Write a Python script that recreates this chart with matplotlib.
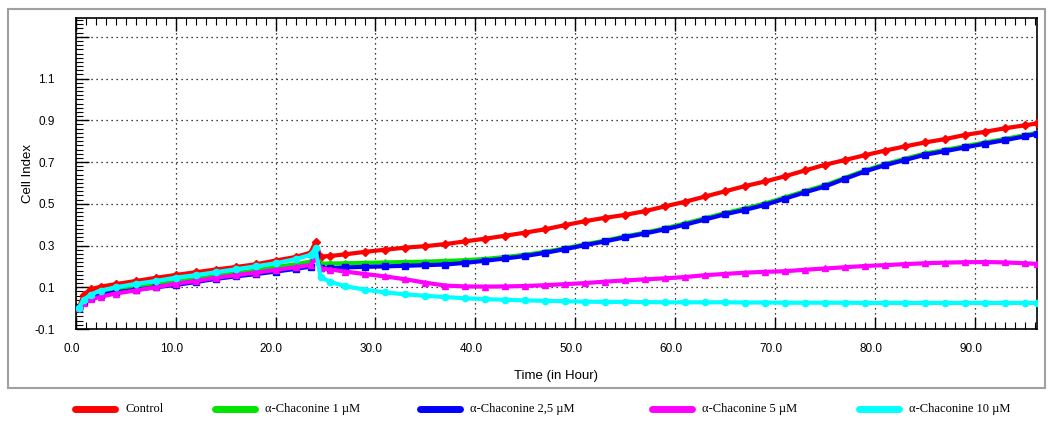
import matplotlib
matplotlib.use("Agg")
import matplotlib.pyplot as plt
import matplotlib.transforms as mtransforms
from matplotlib.lines import Line2D
from matplotlib.patches import Rectangle
import numpy as np

# time points (hours)
hours = [0.3, 0.8, 1.5, 2.5, 4, 6, 8, 10, 12, 14, 16, 18, 20, 22, 23.5, 24.0, 24.5,
         25.5, 27, 29, 31, 33, 35, 37, 39, 41, 43, 45, 47, 49, 51, 53, 55, 57, 59,
         61, 63, 65, 67, 69, 71, 73, 75, 77, 79, 81, 83, 85, 87, 89, 91, 93, 95, 96.2]

control = [0.0, 0.065, 0.09, 0.103, 0.115, 0.13, 0.145, 0.159, 0.172, 0.185, 0.197,
           0.21, 0.228, 0.245, 0.266, 0.315, 0.247, 0.25, 0.258, 0.27, 0.28, 0.29,
           0.297, 0.307, 0.32, 0.333, 0.347, 0.362, 0.378, 0.398, 0.417, 0.433, 0.447,
           0.465, 0.488, 0.51, 0.535, 0.56, 0.585, 0.607, 0.632, 0.66, 0.687, 0.71,
           0.733, 0.755, 0.775, 0.794, 0.81, 0.83, 0.845, 0.862, 0.876, 0.885]

chac_1 = [0.0, 0.04, 0.06, 0.075, 0.087, 0.1, 0.113, 0.126, 0.14, 0.155, 0.167, 0.18,
          0.197, 0.21, 0.223, 0.258, 0.213, 0.214, 0.215, 0.217, 0.219, 0.221, 0.223,
          0.226, 0.23, 0.236, 0.245, 0.256, 0.27, 0.287, 0.306, 0.324, 0.344, 0.362,
          0.383, 0.406, 0.431, 0.456, 0.478, 0.502, 0.531, 0.561, 0.589, 0.625, 0.66,
          0.69, 0.716, 0.741, 0.758, 0.776, 0.794, 0.811, 0.829, 0.84]

chac_2_5 = [0.0, 0.03, 0.05, 0.065, 0.075, 0.088, 0.1, 0.111, 0.125, 0.14, 0.152, 0.163,
            0.175, 0.188, 0.199, 0.255, 0.19, 0.192, 0.195, 0.198, 0.2, 0.203, 0.206,
            0.209, 0.217, 0.227, 0.238, 0.25, 0.265, 0.283, 0.302, 0.32, 0.34, 0.358,
            0.378, 0.4, 0.425, 0.45, 0.471, 0.495, 0.525, 0.555, 0.583, 0.62, 0.655,
            0.685, 0.71, 0.735, 0.752, 0.77, 0.788, 0.805, 0.823, 0.835]

chac_5 = [0.0, 0.025, 0.042, 0.055, 0.07, 0.085, 0.1, 0.117, 0.13, 0.145, 0.158, 0.17,
          0.183, 0.196, 0.207, 0.24, 0.19, 0.185, 0.175, 0.163, 0.152, 0.138, 0.122,
          0.108, 0.104, 0.103, 0.104, 0.106, 0.11, 0.115, 0.12, 0.127, 0.133, 0.138,
          0.143, 0.149, 0.158, 0.164, 0.17, 0.174, 0.177, 0.184, 0.19, 0.196, 0.202,
          0.206, 0.211, 0.215, 0.218, 0.22, 0.221, 0.219, 0.215, 0.212]

chac_10 = [0.0, 0.04, 0.065, 0.084, 0.1, 0.116, 0.13, 0.146, 0.158, 0.172, 0.186, 0.2,
           0.215, 0.235, 0.255, 0.287, 0.15, 0.125, 0.105, 0.088, 0.075, 0.066, 0.059,
           0.053, 0.047, 0.043, 0.04, 0.037, 0.035, 0.033, 0.031, 0.03, 0.03, 0.029,
           0.028, 0.028, 0.028, 0.028, 0.027, 0.027, 0.026, 0.026, 0.026, 0.026, 0.025,
           0.025, 0.025, 0.025, 0.025, 0.025, 0.025, 0.025, 0.025, 0.025]

labels = ["Control", "\u03b1-Chaconine 1 \u00b5M", "\u03b1-Chaconine 2,5 \u00b5M",
          "\u03b1-Chaconine 5 \u00b5M", "\u03b1-Chaconine 10 \u00b5M"]
series = [control, chac_1, chac_2_5, chac_5, chac_10]
colors = ["#ff0000", "#00e400", "#0000ff", "#ff00ff", "#00ffff"]
markers = ["D", "^", "s", "^", "o"]

plt.rcParams['font.family'] = ['Liberation Sans', 'DejaVu Sans']

fig = plt.figure(figsize=(10.51, 4.21), dpi=100)
ax = fig.add_axes([0.072, 0.2185, 0.9147, 0.7387])

for vals, col, mk in zip(series, colors, markers):
    ax.plot(hours, vals, color=col, lw=3, marker=mk, ms=4.5, mec=col, zorder=3)

ax.set_xlim(0, 96.2)
ax.set_ylim(-0.1, 1.39)
ax.set_xticks(np.arange(0, 91, 10))
ax.set_xticklabels([f"{v:.1f}" for v in range(0, 91, 10)])
ax.set_xticks(np.arange(0, 97, 1), minor=True)
yt = [-0.1, 0.1, 0.3, 0.5, 0.7, 0.9, 1.1, 1.3]
ax.set_yticks(yt)
ax.set_yticklabels(["-0.1", "0.1", "0.3", "0.5", "0.7", "0.9", "1.1", ""])
ax.set_yticks(np.arange(-0.1, 1.39, 0.02), minor=True)

ax.tick_params(axis='x', which='both', direction='in', top=True, bottom=True,
               labelsize=8.5, pad=10, color='black')
ax.tick_params(axis='x', which='major', length=9, width=1)
ax.tick_params(axis='x', which='minor', length=5, width=0.8)
ax.tick_params(axis='y', which='both', direction='in', left=True, right=False,
               labelsize=8.5, pad=15)
ax.tick_params(axis='y', which='major', length=9, width=1)
ax.tick_params(axis='y', which='minor', length=5, width=0.8)

# labels sit slightly left of their ticks in the original
offset = mtransforms.ScaledTranslation(-3 / 72, 0, fig.dpi_scale_trans)
for lab in ax.get_xticklabels():
    lab.set_transform(lab.get_transform() + offset)

ax.grid(True, which='major', color='black', linestyle=(0, (1, 3)), lw=0.9)
for sp in ax.spines.values():
    sp.set_linewidth(1.2)

ax.set_xlabel("Time (in Hour)", fontsize=9.5, labelpad=11)
ax.set_ylabel("Cell Index", fontsize=9.5, labelpad=0)

# outer frame
fig.add_artist(Rectangle((8 / 1051, 33 / 421), 1037 / 1051, 379 / 421,
                         transform=fig.transFigure, fill=False,
                         edgecolor='#a0a0a0', lw=1.5))

# legend row below the frame
leg_x = [75, 215, 420, 652, 859]
leg_y = 1 - 409 / 421
for x0, col, lab in zip(leg_x, colors, labels):
    fig.add_artist(Line2D([x0 / 1051, (x0 + 40) / 1051], [leg_y, leg_y],
                          transform=fig.transFigure, color=col, lw=5,
                          solid_capstyle='round'))
    fig.text((x0 + 50) / 1051, leg_y, lab, fontsize=9, va='center',
             family=['Liberation Serif', 'DejaVu Serif'])

fig.savefig("out.png", dpi=100)
